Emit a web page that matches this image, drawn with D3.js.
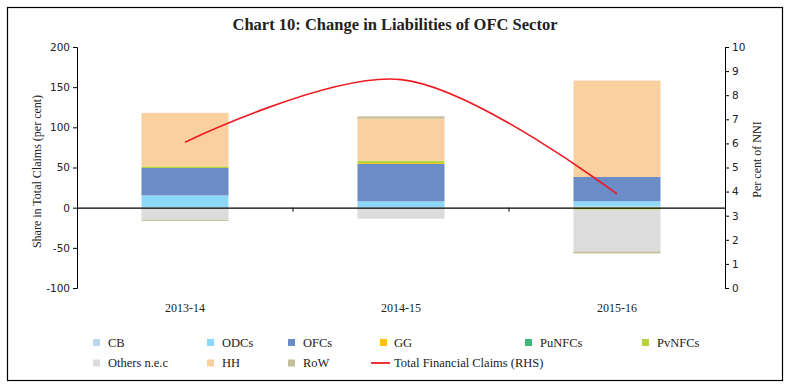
<!DOCTYPE html>
<html><head><meta charset="utf-8">
<script src="https://cdn.jsdelivr.net/npm/d3@7"></script>
<style>body{margin:0;background:#fff}svg{display:block}</style>
</head><body>
<script>
const categories = ["2013-14", "2014-15", "2015-16"];
const seriesNames = ["CB", "ODCs", "OFCs", "GG", "PuNFCs", "PvNFCs", "Others n.e.c", "HH", "RoW"];
const CB      = [0, 0, 1.5];
const ODCs    = [15.3, 7.9, 6.4];
const OFCs    = [34.1, 46.5, 30.3];
const GG      = [0, 1, 0];
const PuNFCs  = [0, 0, 0];
const PvNFCs  = [2, 3, -2.5];
const Others  = [-15, -13.7, -52];
const HH      = [66.6, 52.3, 120];
const RoW     = [-1.5, 3, -2.5];
const totalRHS = [6.05, 8.65, 3.9];
const leftTicks = [200, 150, 100, 50, 0, -50, -100];
const rightTicks = [0, 1, 2, 3, 4, 5, 6, 7, 8, 9, 10];

const seriesValues = [CB, ODCs, OFCs, GG, PuNFCs, PvNFCs, Others, HH, RoW];
const colors = ["#b9d9ea", "#8dd8f8", "#6b8cc7", "#ffc000", "#3cb878", "#b6d33b", "#dcdcdc", "#fbd09f", "#c4c09a"];

const W = 792, H = 390;
const svg = d3.select("body").append("svg").attr("width", W).attr("height", H);
svg.append("rect").attr("x", 7.5).attr("y", 7.5).attr("width", 775).attr("height", 373)
  .attr("fill", "none").attr("stroke", "#000").attr("stroke-width", 1.2);

const serif = "'Liberation Serif', 'DejaVu Serif', serif";
const sans = "'DejaVu Sans', Verdana, sans-serif";

svg.append("text").attr("x", 395).attr("y", 30).attr("text-anchor", "middle")
  .attr("font-family", serif).attr("font-weight", "bold").attr("font-size", 16.5)
  .attr("fill", "#222").text("Chart 10: Change in Liabilities of OFC Sector");

const x0 = 77, x1 = 725, yTop = 47, yBot = 288;
const xc = d3.scaleBand().domain(categories).range([x0, x1]);
const y = d3.scaleLinear().domain([-100, 200]).range([yBot, yTop]);
const y2 = d3.scaleLinear().domain([0, 10]).range([yBot, yTop]);

const table = categories.map((c, i) => {
  const o = { cat: c };
  seriesNames.forEach((s, k) => o[s] = seriesValues[k][i]);
  return o;
});
const stack = d3.stack().keys(seriesNames).offset(d3.stackOffsetDiverging);
const stacked = stack(table);

const barW = 87;
stacked.forEach((layer, k) => {
  svg.append("g").selectAll("rect").data(layer).join("rect")
    .attr("x", d => xc(d.data.cat) + xc.bandwidth() / 2 - barW / 2)
    .attr("width", barW)
    .attr("y", d => y(Math.max(d[0], d[1])))
    .attr("height", d => Math.abs(y(d[0]) - y(d[1])))
    .attr("fill", colors[k]);
});

// zero line with category ticks
const gx = svg.append("g").attr("transform", `translate(0,${y(0)})`)
  .call(d3.axisBottom(xc).tickSize(0).tickFormat(""));
gx.select(".domain").attr("stroke", "#000").attr("stroke-width", 1.2);
[xc("2014-15"), xc("2015-16")].forEach(px => {
  svg.append("line").attr("x1", px).attr("x2", px).attr("y1", y(0)).attr("y2", y(0) + 4)
    .attr("stroke", "#000");
});

// category labels
svg.append("g").selectAll("text").data(categories).join("text")
  .attr("x", d => xc(d) + xc.bandwidth() / 2).attr("y", 312)
  .attr("text-anchor", "middle").attr("font-family", serif).attr("font-size", 12)
  .attr("fill", "#222").text(d => d);

// left axis
const gl = svg.append("g").attr("transform", `translate(${x0},0)`)
  .call(d3.axisLeft(y).tickValues(leftTicks).tickSize(4).tickPadding(3).tickFormat(d => String(d)));
gl.select(".domain").attr("stroke", "#000");
gl.selectAll("text").attr("font-family", sans).attr("font-size", 10.5).attr("fill", "#222");

// right axis
const gr = svg.append("g").attr("transform", `translate(${x1},0)`)
  .call(d3.axisRight(y2).tickValues(rightTicks).tickSize(4).tickPadding(3).tickFormat(d => String(d)));
gr.select(".domain").attr("stroke", "#000");
gr.selectAll("text").attr("font-family", sans).attr("font-size", 10.5).attr("fill", "#222");

// axis titles
svg.append("text").attr("transform", `translate(41,${(yTop + yBot) / 2 + 4}) rotate(-90)`)
  .attr("text-anchor", "middle").attr("font-family", serif).attr("font-size", 12)
  .attr("fill", "#222").text("Share in Total Claims (per cent)");
svg.append("text").attr("transform", `translate(761,${(yTop + yBot) / 2 - 8}) rotate(-90)`)
  .attr("text-anchor", "middle").attr("font-family", serif).attr("font-size", 12)
  .attr("fill", "#222").text("Per cent of NNI");

// line
const line = d3.line()
  .x((d, i) => xc(categories[i]) + xc.bandwidth() / 2)
  .y(d => y2(d))
  .curve(d3.curveCatmullRom.alpha(0.5));
svg.append("path").datum(totalRHS).attr("d", line)
  .attr("fill", "none").attr("stroke", "#ed1c24").attr("stroke-width", 1.7);

// legend
const legendItems = [
  { name: "CB", color: colors[0], sx: 93, tx: 108, row: 0 },
  { name: "ODCs", color: colors[1], sx: 207, tx: 222, row: 0 },
  { name: "OFCs", color: colors[2], sx: 288, tx: 303, row: 0 },
  { name: "GG", color: colors[3], sx: 380, tx: 394, row: 0 },
  { name: "PuNFCs", color: colors[4], sx: 525, tx: 540, row: 0 },
  { name: "PvNFCs", color: colors[5], sx: 642, tx: 657, row: 0 },
  { name: "Others n.e.c", color: colors[6], sx: 93, tx: 108, row: 1 },
  { name: "HH", color: colors[7], sx: 207, tx: 222, row: 1 },
  { name: "RoW", color: colors[8], sx: 288, tx: 303, row: 1 },
  { name: "Total Financial Claims (RHS)", color: "#ed1c24", sx: 371, tx: 394, row: 1, line: true }
];
const lg = svg.append("g");
legendItems.forEach(it => {
  const cy = it.row === 0 ? 342.5 : 363;
  if (it.line) {
    lg.append("line").attr("x1", it.sx).attr("x2", it.sx + 19).attr("y1", cy).attr("y2", cy)
      .attr("stroke", it.color).attr("stroke-width", 1.8);
  } else {
    lg.append("rect").attr("x", it.sx).attr("y", cy - 3.5).attr("width", 7).attr("height", 7)
      .attr("fill", it.color);
  }
  lg.append("text").attr("x", it.tx).attr("y", cy + 4).attr("font-family", serif)
    .attr("font-size", 12.5).attr("fill", "#222").text(it.name);
});
</script>
</body></html>
